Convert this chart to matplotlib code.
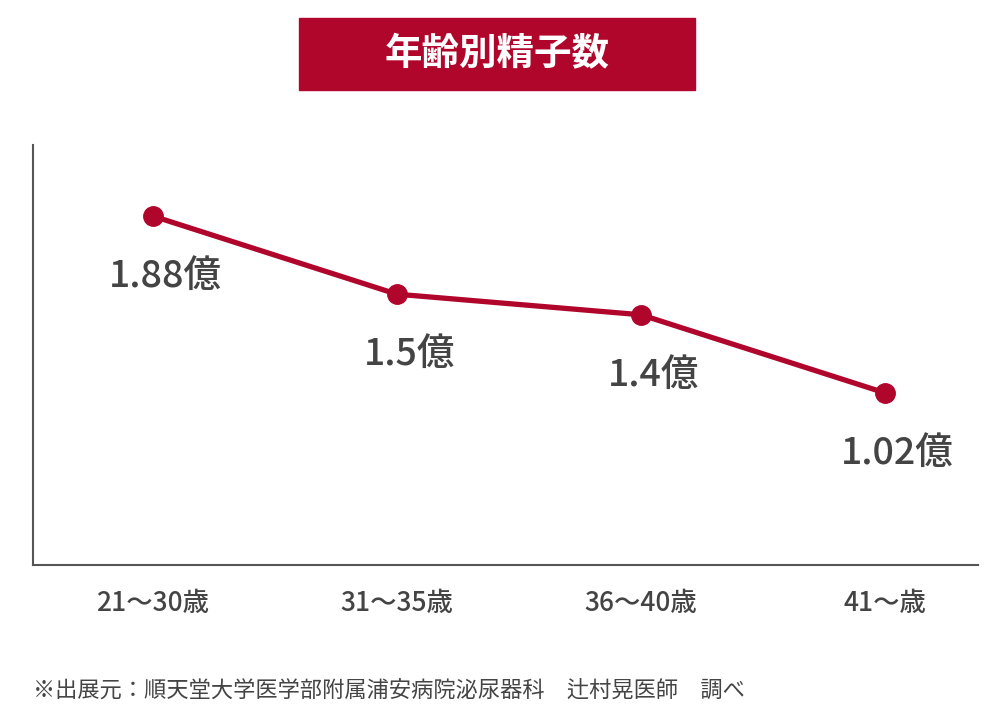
import matplotlib
matplotlib.use("Agg")
import matplotlib.pyplot as plt
from matplotlib.patches import Rectangle

plt.rcParams['font.family'] = ['Noto Sans CJK JP', 'DejaVu Sans']

categories = ["21〜30歳", "31〜35歳", "36〜40歳", "41〜歳"]
values = [1.88, 1.5, 1.4, 1.02]
labels = ["1.88億", "1.5億", "1.4億", "1.02億"]

red = "#b1062c"
gray = "#444444"

W, H = 999, 717
fig = plt.figure(figsize=(W / 100, H / 100), dpi=100)
ax = fig.add_axes([33 / W, 1 - 565 / H, (978 - 33) / W, (565 - 145) / H])

x = list(range(len(values)))
ax.plot(x, values, color=red, lw=3.8, marker="o", ms=14, zorder=3)
ax.set_xlim(-0.49, 3.38)
ax.set_ylim(0.184, 2.225)

for xi, v, lab in zip(x, values, labels):
    ax.annotate(lab, (xi, v), xytext=(9, -43), textcoords="offset points",
                ha="center", va="center", fontsize=27, fontweight="medium", color=gray)

ax.set_xticks(x)
ax.set_xticklabels(categories, fontsize=19, fontweight="medium", color=gray)
ax.tick_params(axis="x", length=0, pad=18)
ax.set_yticks([])
for s in ["top", "right"]:
    ax.spines[s].set_visible(False)
for s in ["left", "bottom"]:
    ax.spines[s].set_color("#555555")
    ax.spines[s].set_linewidth(1.5)

fig.patches.append(Rectangle((299 / W, 1 - 90 / H), (695 - 299) / W, 72 / H,
                             transform=fig.transFigure, color=red, zorder=0))
fig.text(497 / W, 1 - 54 / H, "年齢別精子数", ha="center", va="center",
         fontsize=27, fontweight="bold", color="white")

fig.text(33 / W, 1 - 690 / H, "※出展元：順天堂大学医学部附属浦安病院泌尿器科　辻村晃医師　調べ",
         ha="left", va="center", fontsize=16, color=gray)

fig.savefig("out.png", dpi=100, facecolor="white")
